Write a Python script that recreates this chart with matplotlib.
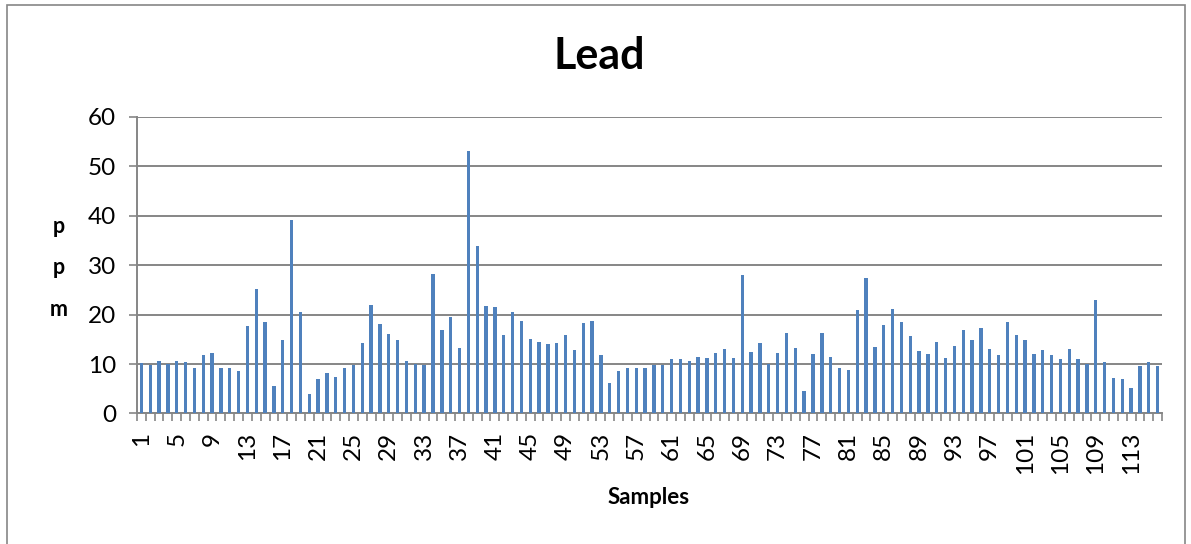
import matplotlib
matplotlib.use("Agg")
import matplotlib.pyplot as plt
import numpy as np
from matplotlib.patches import Rectangle

plt.rcParams['font.family'] = ['Lato', 'DejaVu Sans']

# lead concentration (ppm) per sample
lead_ppm = [
    10.3, 9.9, 10.6, 10.0, 10.6, 10.4, 9.3, 11.9, 12.2, 9.3,
    9.1, 8.6, 17.6, 25.2, 18.5, 5.5, 14.9, 39.1, 20.6, 4.0,
    7.0, 8.2, 7.3, 9.2, 9.9, 14.2, 22.0, 18.1, 16.0, 14.8,
    10.6, 10.0, 9.9, 28.3, 16.9, 19.6, 13.2, 53.1, 33.9, 21.7,
    21.6, 15.8, 20.5, 18.7, 15.0, 14.4, 14.0, 14.2, 15.8, 12.8,
    18.2, 18.7, 11.8, 6.1, 8.6, 9.2, 9.1, 9.1, 9.9, 9.8,
    11.1, 11.0, 10.7, 11.5, 11.2, 12.3, 13.1, 11.3, 28.1, 12.5,
    14.2, 10.0, 12.3, 16.2, 13.3, 4.6, 12.0, 16.2, 11.5, 9.2,
    8.8, 20.9, 27.3, 13.4, 17.9, 21.2, 18.6, 15.6, 12.6, 12.0,
    14.4, 11.2, 13.6, 16.9, 14.8, 17.2, 13.1, 11.9, 18.5, 15.8,
    14.8, 12.1, 12.8, 11.9, 11.0, 13.0, 11.1, 10.0, 22.9, 10.5,
    7.2, 6.9, 5.1, 9.6, 10.5, 9.6,
]
samples = np.arange(1, len(lead_ppm) + 1)
label_samples = samples[::4]
y_ticks = [0, 10, 20, 30, 40, 50, 60]

grid_gray = '#868686'

fig = plt.figure(figsize=(11.91, 5.44), dpi=100)
ax = fig.add_axes([0.115, 0.2399, 0.8607, 0.5454])

ax.bar(samples, lead_ppm, width=0.38, color='#4F81BD', zorder=3)

ax.set_xlim(0.5, len(lead_ppm) + 0.5)
ax.set_ylim(0, 60)
ax.set_yticks(y_ticks)
ax.yaxis.grid(True, color=grid_gray, linewidth=1.4, zorder=0)

# category boundaries get the tick marks, labels every 4th sample
ax.set_xticks(np.arange(0.5, len(lead_ppm) + 1), minor=False)
ax.set_xticklabels([])
ax.set_xticks(label_samples, minor=True)
ax.set_xticklabels([str(s) for s in label_samples], minor=True, rotation=90, fontsize=17.5)
ax.tick_params(axis='x', which='major', length=6, width=1.2, color=grid_gray, direction='out')
ax.tick_params(axis='x', which='minor', length=0, pad=13)
ax.tick_params(axis='y', length=6, width=1.2, color=grid_gray, labelsize=17.5, pad=9)

for side in ['top', 'right']:
    ax.spines[side].set_visible(False)
for side in ['left', 'bottom']:
    ax.spines[side].set_color(grid_gray)
    ax.spines[side].set_linewidth(1.4)

fig.text(599 / 1191, 1 - 56 / 544, 'Lead', fontsize=31, fontweight='bold',
         ha='center', va='center')
fig.text(649 / 1191, 1 - 497 / 544, 'Samples', fontsize=16, fontweight='bold',
         ha='center', va='center')
fig.text(59 / 1191, 1 - 268 / 544, 'p\np\nm', fontsize=15.5, fontweight='bold',
         ha='center', va='center', linespacing=2.2)

# outer chart frame, open at the bottom like the cropped original
fig.patches.append(Rectangle((7 / 1191, -0.05), 1178 / 1191, 1.05 - 5 / 544,
                             transform=fig.transFigure, fill=False,
                             edgecolor=grid_gray, linewidth=1.2))

fig.savefig('out.png', dpi=100)
